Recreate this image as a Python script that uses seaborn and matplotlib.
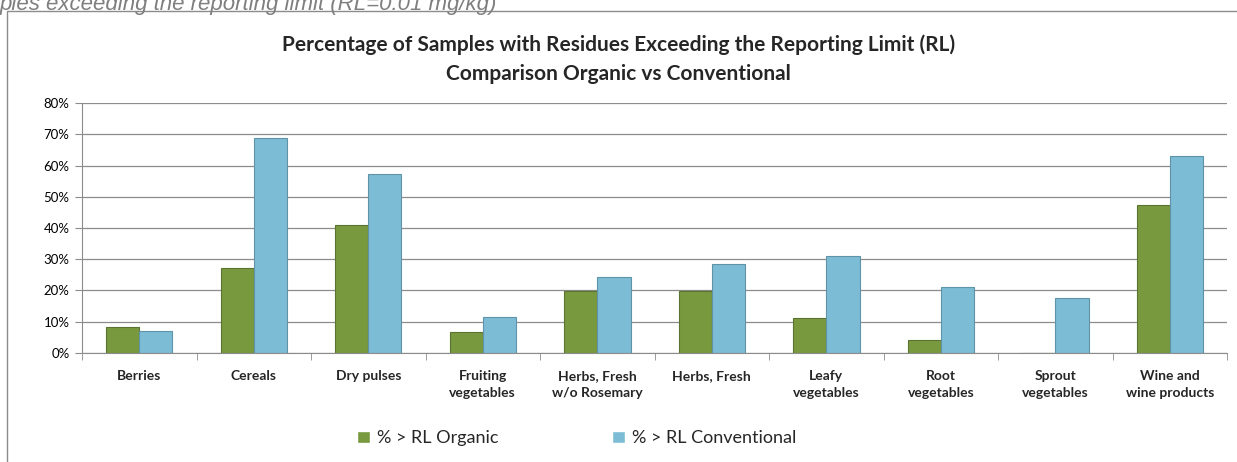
import numpy as np
import pandas as pd
import matplotlib
matplotlib.use("Agg")
import matplotlib.pyplot as plt
import seaborn as sns
from matplotlib.ticker import PercentFormatter, FixedLocator

# Data
categories = ["Berries", "Cereals", "Dry pulses", "Fruiting\nvegetables",
              "Herbs, Fresh\nw/o Rosemary", "Herbs, Fresh", "Leafy\nvegetables",
              "Root\nvegetables", "Sprout\nvegetables", "Wine and\nwine products"]
organic = [8.2, 27.3, 41.0, 6.8, 19.9, 19.9, 11.3, 4.3, 0.0, 47.4]
conventional = [7.1, 68.9, 57.3, 11.5, 24.3, 28.6, 31.1, 21.1, 17.6, 63.0]
series_names = ["% > RL Organic", "% > RL Conventional"]
y_ticks = [0, 10, 20, 30, 40, 50, 60, 70, 80]

df = pd.DataFrame({
    "category": categories * 2,
    "series": [series_names[0]] * len(categories) + [series_names[1]] * len(categories),
    "value": organic + conventional,
})

sns.set_style("white")
plt.rcParams["font.family"] = ["Lato", "DejaVu Sans"]

fig = plt.figure(figsize=(12.37, 4.62), dpi=100)
ax = fig.add_axes([0.0663, 0.236, 0.9257, 0.541])

palette = {series_names[0]: "#79993F", series_names[1]: "#7CBCD4"}
sns.barplot(data=df, x="category", y="value", hue="series", palette=palette,
            width=0.58, gap=0, saturation=1, ax=ax, legend=True)

edges = {series_names[0]: "#5B7330", series_names[1]: "#5F93A8"}
for cont, name in zip(ax.containers, series_names):
    for bar in cont:
        bar.set_edgecolor(edges[name])
        bar.set_linewidth(0.8)

ax.set_ylim(0, 80)
ax.set_xlim(-0.5, len(categories) - 0.5)
ax.yaxis.set_major_locator(FixedLocator(y_ticks))
ax.yaxis.set_major_formatter(PercentFormatter(decimals=0))
ax.grid(axis="y", color="#8C8C8C", linewidth=0.9)
ax.set_axisbelow(True)

for s in ["top", "right"]:
    ax.spines[s].set_visible(False)
ax.spines["left"].set_color("#8C8C8C")
ax.spines["bottom"].set_color("#8C8C8C")

ax.tick_params(axis="y", which="major", length=5, color="#8C8C8C", labelsize=9.5,
               labelcolor="#000000", left=True, pad=4)
ax.tick_params(axis="x", which="major", length=0, labelsize=10, pad=12)
ax.set_xticks(np.arange(-0.5, len(categories) + 0.5, 1), minor=True)
ax.tick_params(axis="x", which="minor", length=5, color="#8C8C8C", bottom=True)
for lbl in ax.get_xticklabels():
    lbl.set_fontweight("bold")
    lbl.set_linespacing(1.55)
ax.set_xlabel("")
ax.set_ylabel("")

leg = ax.legend(loc="upper center", bbox_to_anchor=(0.432, -0.245), ncol=2,
                frameon=False, fontsize=13, handlelength=0.7, handleheight=0.7,
                handletextpad=0.4, columnspacing=6.3)

fig.text(0.5, 0.872, "Percentage of Samples with Residues Exceeding the Reporting Limit (RL)\n"
         "Comparison Organic vs Conventional", ha="center", va="center",
         fontsize=15, fontweight="bold", linespacing=1.55)

# cut-off caption at the top and chart frame
fig.text(0.0, 0.99, "ples exceeding the reporting limit (RL=0.01 mg/kg)", ha="left",
         va="center", fontsize=16, style="italic", color="#7F7F7F",
         family=["Liberation Sans", "DejaVu Sans"])
frame = plt.Rectangle((0.0057, -0.05), 1.2, 1.026, transform=fig.transFigure,
                      fill=False, edgecolor="#8C8C8C", linewidth=1.0)
fig.add_artist(frame)

fig.savefig("out.png", dpi=100)
